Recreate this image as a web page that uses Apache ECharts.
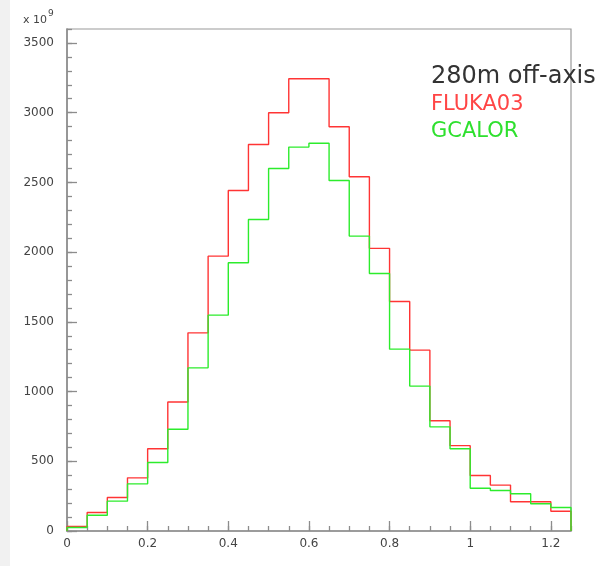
<!DOCTYPE html>
<html>
<head>
<meta charset="utf-8">
<title>280m off-axis</title>
<script src="https://cdn.jsdelivr.net/npm/echarts@6/dist/echarts.min.js"></script>
<style>
  html, body { margin: 0; padding: 0; background: #ffffff; }
  #chart { width: 605px; height: 566px; }
</style>
</head>
<body>
<div id="chart"></div>
<script>
// Histogram binning (GeV): 25 bins of width 0.05 starting at 0
const binStart = 0;
const binWidth = 0.05;

// Bin contents (x 10^9)
const fluka03 = [32, 133, 240, 381, 590, 925, 1421, 1971, 2442, 2772, 2999, 3243, 3243,
                 2899, 2540, 2027, 1646, 1297, 791, 612, 398, 329, 210, 210, 142];
const gcalor  = [25, 113, 214, 338, 491, 730, 1170, 1548, 1924, 2234, 2600, 2753, 2781,
                 2514, 2115, 1847, 1304, 1039, 747, 590, 307, 290, 267, 195, 168];

// Axis ranges and tick spacing
const xMin = 0, xMax = 1.25, xMajor = 0.2, xMinor = 0.05;
const yMin = 0, yMax = 3600, yMajor = 500, yMinor = 100;

const titleText = '280m off-axis';
const seriesNames = ['FLUKA03', 'GCALOR'];
const seriesColors = ['#ff3434', '#2cec2c'];

// Build the histogram outline: rise from zero, flat top per bin, drop back to zero
function outline(values) {
  const r = v => +v.toFixed(6);
  const pts = [[r(binStart), 0]];
  values.forEach((v, i) => {
    const lo = r(binStart + i * binWidth);
    const hi = r(binStart + (i + 1) * binWidth);
    pts.push([lo, v], [hi, v]);
  });
  pts.push([r(binStart + values.length * binWidth), 0]);
  return pts;
}

const axisGray = '#8c8c8c';
const labelStyle = { color: '#444', fontFamily: 'DejaVu Sans', fontSize: 12 };
const plainNumber = v => String(+v.toFixed(6));

const chart = echarts.init(document.getElementById('chart'), null, { renderer: 'canvas' });

chart.setOption({
  animation: false,
  backgroundColor: '#ffffff',
  grid: {
    left: 67, right: 34, top: 29, bottom: 35,
    show: true, borderColor: '#9a9a9a', borderWidth: 1.2, backgroundColor: 'transparent'
  },
  xAxis: [
    {
      type: 'value', min: xMin, max: xMax, interval: xMajor, position: 'bottom',
      axisLine: { show: true, onZero: false, lineStyle: { color: axisGray, width: 1.6 } },
      axisTick: { show: true, inside: true, length: 10, lineStyle: { color: axisGray, width: 1.3 } },
      axisLabel: Object.assign({ margin: 7, showMaxLabel: false, formatter: plainNumber }, labelStyle),
      splitLine: { show: false }
    },
    {
      type: 'value', min: xMin, max: xMax, interval: xMinor, position: 'bottom',
      axisLine: { show: false, onZero: false },
      axisTick: { show: true, inside: true, length: 5, lineStyle: { color: axisGray, width: 1.3 } },
      axisLabel: { show: false },
      splitLine: { show: false }
    }
  ],
  yAxis: [
    {
      type: 'value', min: yMin, max: yMax, interval: yMajor, position: 'left',
      axisLine: { show: true, onZero: false, lineStyle: { color: axisGray, width: 1.6 } },
      axisTick: { show: true, inside: true, length: 10, lineStyle: { color: axisGray, width: 1.3 } },
      axisLabel: Object.assign({ margin: 13, showMaxLabel: false, formatter: plainNumber }, labelStyle),
      splitLine: { show: false }
    },
    {
      type: 'value', min: yMin, max: yMax, interval: yMinor, position: 'left',
      axisLine: { show: false, onZero: false },
      axisTick: { show: true, inside: true, length: 5, lineStyle: { color: axisGray, width: 1.3 } },
      axisLabel: { show: false },
      splitLine: { show: false }
    }
  ],
  series: [
    {
      name: seriesNames[0], type: 'line', xAxisIndex: 0, yAxisIndex: 0,
      data: outline(fluka03), showSymbol: false, symbol: 'none',
      lineStyle: { color: seriesColors[0], width: 1.4 }, z: 3
    },
    {
      name: seriesNames[1], type: 'line', xAxisIndex: 0, yAxisIndex: 0,
      data: outline(gcalor), showSymbol: false, symbol: 'none',
      lineStyle: { color: seriesColors[1], width: 1.4 }, z: 4
    }
  ],
  graphic: [
    {
      type: 'rect', left: 0, top: 0, z: -10,
      shape: { width: 10, height: 566 },
      style: { fill: '#f1f1f1' }
    },
    {
      type: 'text', left: 23, top: 9, z: 10,
      style: {
        text: '{a|x 10}{b|9}',
        rich: {
          a: { fontFamily: 'DejaVu Sans', fontSize: 11, fill: '#444', verticalAlign: 'bottom', padding: [6, 1, 0, 0] },
          b: { fontFamily: 'DejaVu Sans', fontSize: 9, fill: '#444', verticalAlign: 'top', padding: [0, 0, 6, 0] }
        }
      }
    },
    {
      type: 'text', x: 431, y: 77, z: 10,
      style: { text: titleText, fontFamily: 'DejaVu Sans', fontSize: 24, fill: '#333', verticalAlign: 'middle' }
    },
    {
      type: 'text', x: 431, y: 105, z: 10,
      style: { text: seriesNames[0], fontFamily: 'DejaVu Sans', fontSize: 21, fill: '#ff4545', verticalAlign: 'middle' }
    },
    {
      type: 'text', x: 431, y: 132, z: 10,
      style: { text: seriesNames[1], fontFamily: 'DejaVu Sans', fontSize: 21, fill: '#2ee02e', verticalAlign: 'middle' }
    }
  ]
});
</script>
</body>
</html>
